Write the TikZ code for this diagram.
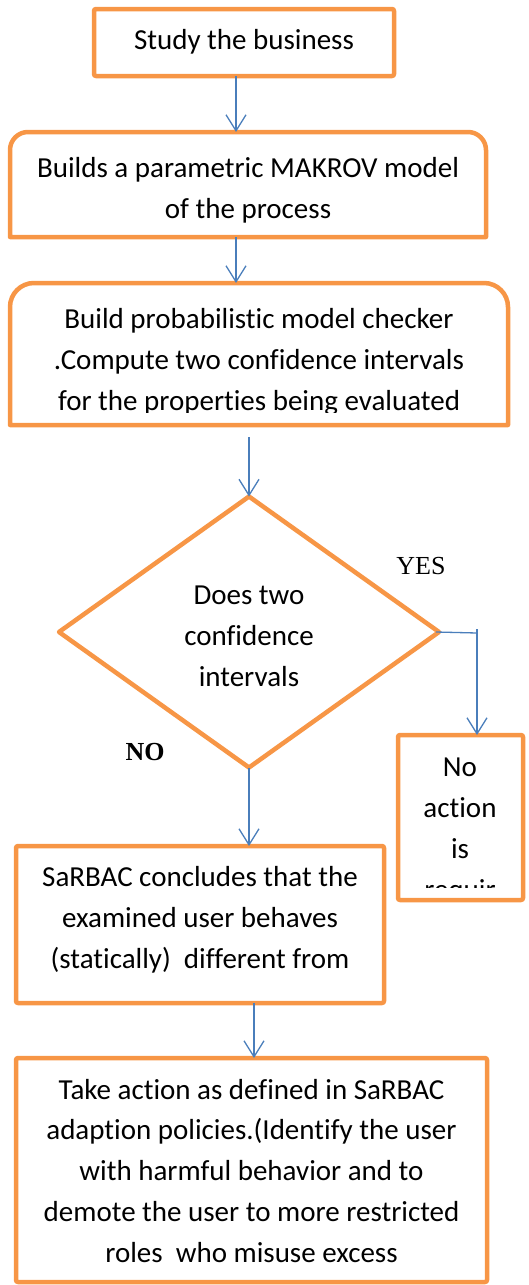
\documentclass[tikz,border=0pt]{standalone}
\usepackage{fontspec}
\setmainfont{Carlito}[Ligatures={NoCommon}]
\newfontfamily\timesfont{Liberation Serif}
\usetikzlibrary{arrows.meta,shapes.geometric}
\definecolor{boxorange}{HTML}{F79646}
\definecolor{arrowblue}{HTML}{4A7EBB}
\tikzset{
  obox/.style={draw=boxorange, line width=4.5pt, line join=round},
  sbox/.style={obox, rectangle, rounded corners=2pt, inner sep=0pt, outer sep=0pt},
  frame/.style={rectangle, draw=none, inner sep=0pt, outer sep=0pt},
  txt/.style={align=center, anchor=base, inner sep=0pt, outer sep=0pt,
    font=\fontsize{29}{40.7}\selectfont},
  lbl/.style={anchor=base, inner sep=0pt, font=\timesfont\fontsize{26}{30}\selectfont},
  arr/.style={draw=arrowblue, line width=1.3pt,
    -{Straight Barb[length=16pt,width=20pt,line width=1.3pt]}},
  plain/.style={draw=arrowblue, line width=1.3pt}
}
\begin{document}
\begin{tikzpicture}[x=1pt,y=-1pt]
\useasboundingbox (0,0) rectangle (528,1285);

% box 1
\node[sbox, minimum width=300pt, minimum height=67pt] (b1) at (244,42.5) {};
\node[txt] (t1) at (244,49) {Study the business};

% box 2 (rounded top)
\node[frame, minimum width=476pt, minimum height=105pt] (b2) at (248,184.5) {};
\draw[obox] (b2.south west) -- ([yshift=-18pt]b2.north west)
  arc[start angle=180,end angle=90,radius=18pt]
  -- ([xshift=-18pt]b2.north east)
  arc[start angle=90,end angle=0,radius=18pt]
  -- (b2.south east) -- cycle;
\node[txt] (t2) at (248,218) {Builds a parametric MAKROV model\\of the process};

% box 3 (rounded top, clipped text)
\node[frame, minimum width=498pt, minimum height=142pt] (b3) at (259,354) {};
\draw[obox] (b3.south west) -- ([yshift=-24pt]b3.north west)
  arc[start angle=180,end angle=90,radius=24pt]
  -- ([xshift=-24pt]b3.north east)
  arc[start angle=90,end angle=0,radius=24pt]
  -- (b3.south east) -- cycle;
\begin{scope}
  \clip (0,0) rectangle (528,412);
  \node[txt] (t3) at (259,410) {Build probabilistic model checker\\.Compute two confidence intervals\\for the properties being evaluated};
\end{scope}

% decision diamond
\node[obox, diamond, minimum width=380pt, minimum height=271pt, inner sep=0pt, outer sep=0pt] (d) at (249,632) {};
\node[txt] (t4) at (249,686) {Does two\\confidence\\intervals};

% labels
\node[lbl] (yes) at (421,574) {YES};
\node[lbl, font=\timesfont\bfseries\fontsize{26}{30}\selectfont] (no) at (145,760) {NO};

% no action box
\node[sbox, minimum width=125pt, minimum height=165pt] (na) at (460.5,817.5) {};
\begin{scope}
  \clip (0,0) rectangle (528,887);
  \node[txt] (t5) at (460,899) {No\\action\\is\\requir};
\end{scope}

% box 5
\node[sbox, minimum width=368pt, minimum height=157pt] (b5) at (200,924.5) {};
\node[txt] (t6) at (200,968) {SaRBAC concludes that the\\examined user behaves\\(statically)\ \ different from};

% box 6
\node[sbox, minimum width=471pt, minimum height=224pt] (b6) at (251.5,1170) {};
\node[txt] (t7) at (251.5,1262) {Take action as defined in SaRBAC\\adaption policies.(Identify the user\\with harmful behavior and to\\demote the user to more restricted\\roles\ \ who misuse excess};

% connectors
\coordinate (a3s) at (249,437);
\coordinate (yc) at (477,633);
\draw[arr] ([xshift=-8pt]b1.south) -- ([xshift=-8pt]b1.south |- b2.north);
\draw[arr] ([xshift=-12pt]b2.south) -- ([xshift=-12pt]b2.south |- b3.north);
\draw[arr] (a3s) -- (d.north);
\draw[plain] ([xshift=-3pt]d.east) -- (yc);
\draw[arr] ([yshift=4pt]yc) -- (yc |- na.north);
\draw[arr] (d.south) -- (d.south |- b5.north);
\draw[arr] ([xshift=54pt]b5.south) -- ([xshift=54pt]b5.south |- b6.north);
\end{tikzpicture}
\end{document}
